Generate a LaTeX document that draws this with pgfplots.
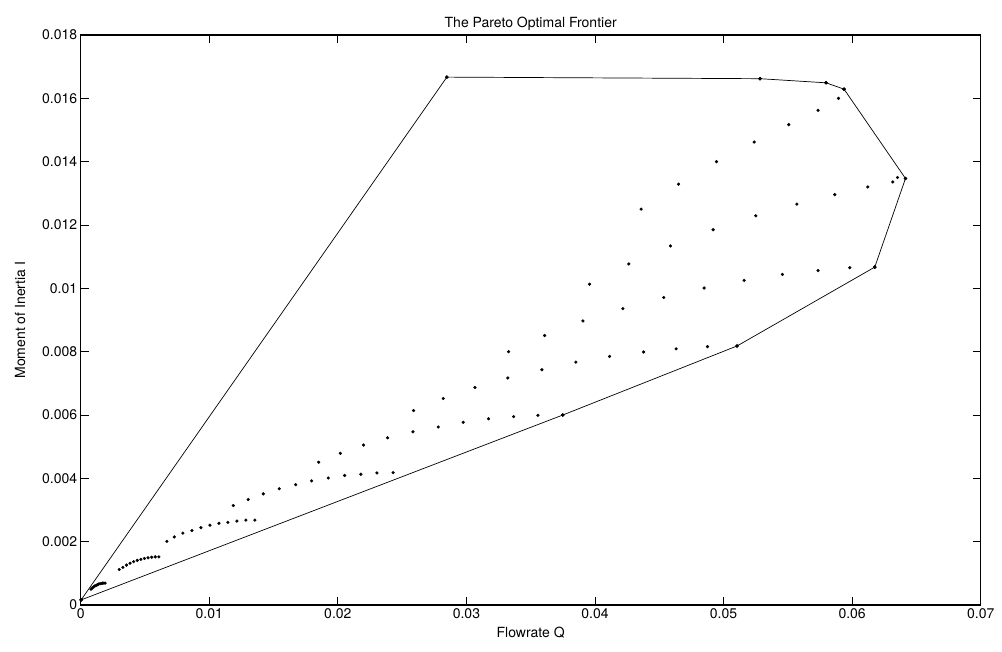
\documentclass[border=0pt]{standalone}
\usepackage{pgfplots}
\pgfplotsset{compat=1.18}
\usepackage{fontspec}
\setmainfont{TeX Gyre Heros}
\begin{document}
\begin{tikzpicture}
\begin{axis}[name=ax,
  scale only axis, width=900bp, height=570bp,
  xmin=0, xmax=0.07, ymin=0, ymax=0.018,
  xtick={0,0.01,...,0.07}, ytick={0,0.002,...,0.018},
  scaled x ticks=false, scaled y ticks=false,
  xticklabel style={/pgf/number format/fixed, /pgf/number format/precision=3},
  yticklabel style={/pgf/number format/fixed, /pgf/number format/precision=3},
  /pgf/number format/assume math mode=true,
  tick align=inside, major tick length=8bp,
  axis line style={line width=1.1bp},
  tick style={line width=0.8bp, black},
  font=\fontsize{14bp}{16bp}\selectfont,
  title={The Pareto Optimal Frontier},
  title style={yshift=-5bp},
  xlabel={Flowrate Q}, ylabel={Moment of Inertia I},
  xlabel style={yshift=-2bp}, ylabel style={yshift=10bp},
  clip=false,
]
% convex hull
\addplot[black, line width=0.7bp, mark=*, mark size=1.4bp] coordinates {
(0.00003,0.00016) (0.02848,0.01667) (0.05284,0.01662) (0.05797,0.01649)
(0.05937,0.01629) (0.06415,0.01347) (0.06176,0.01067) (0.05105,0.00818)
(0.0375,0.0060) (0.00003,0.00016)};
% cluster 1
\addplot[only marks, mark=*, mark size=1.4bp, black] coordinates {
(0.0008,0.00050) (0.0009,0.00054) (0.0010,0.00057) (0.0011,0.00060) (0.0012,0.00062)
(0.0013,0.00064) (0.0014,0.00066) (0.0015,0.00067) (0.0016,0.00068) (0.0017,0.00069)
(0.0018,0.00069) (0.0019,0.00069)};
% cluster 2
\addplot[only marks, mark=*, mark size=1.4bp, black] coordinates {
(0.0030,0.00112) (0.00328,0.00119) (0.00356,0.00126) (0.00384,0.00132) (0.00412,0.00137)
(0.0044,0.00141) (0.00468,0.00144) (0.00496,0.00147) (0.00524,0.00149) (0.00552,0.00151)
(0.0058,0.00152) (0.00608,0.00152)};
% cluster 3
\addplot[only marks, mark=*, mark size=1.4bp, black] coordinates {
(0.0067,0.00201) (0.00728,0.00215) (0.00795,0.00227) (0.00865,0.00235) (0.00935,0.00244)
(0.01005,0.00252) (0.01075,0.00258) (0.01145,0.00261) (0.01215,0.00265) (0.01285,0.00268)
(0.01355,0.00268)};
% series 4
\addplot[only marks, mark=*, mark size=1.4bp, black] coordinates {
(0.01187,0.00314) (0.01303,0.00333) (0.01420,0.00351) (0.01544,0.00367) (0.01672,0.00380)
(0.01796,0.00392) (0.01925,0.00401) (0.02053,0.00409) (0.02179,0.00413) (0.02304,0.00417)
(0.0243,0.00418)};
% series 5
\addplot[only marks, mark=*, mark size=1.4bp, black] coordinates {
(0.01851,0.00451) (0.02019,0.00479) (0.02200,0.00505) (0.02387,0.00528) (0.02584,0.00547)
(0.02781,0.00562) (0.02975,0.00577) (0.03172,0.00588) (0.03367,0.00595) (0.03556,0.00599)
(0.0375,0.0060)};
% series 6
\addplot[only marks, mark=*, mark size=1.4bp, black] coordinates {
(0.02589,0.00614) (0.02820,0.00652) (0.03066,0.00687) (0.03322,0.00717) (0.03587,0.00743)
(0.03851,0.00767) (0.04113,0.00785) (0.04378,0.00799) (0.04631,0.00809) (0.04875,0.00816)
(0.05105,0.00818)};
% series 7
\addplot[only marks, mark=*, mark size=1.4bp, black] coordinates {
(0.03328,0.00800) (0.03608,0.00851) (0.03906,0.00897) (0.04217,0.00936) (0.04535,0.00971)
(0.04849,0.01001) (0.05160,0.01025) (0.05458,0.01044) (0.05735,0.01056) (0.05982,0.01065)
(0.06176,0.01067)};
% series 8
\addplot[only marks, mark=*, mark size=1.4bp, black] coordinates {
(0.03958,0.01013) (0.04263,0.01077) (0.04587,0.01134) (0.04919,0.01185) (0.05251,0.01229)
(0.05570,0.01266) (0.05865,0.01296) (0.06122,0.01320) (0.06316,0.01336) (0.06353,0.01350)
(0.06415,0.01347)};
% series 9
\addplot[only marks, mark=*, mark size=1.4bp, black] coordinates {
(0.04359,0.01250) (0.04650,0.01329) (0.04945,0.01400) (0.05238,0.01462) (0.05507,0.01517)
(0.05735,0.01562) (0.05894,0.01600) (0.05937,0.01629) (0.05797,0.01649) (0.05284,0.01662)
(0.02848,0.01667)};
\end{axis}
\pgfresetboundingbox
\path[use as bounding box] (ax.south west) ++(-80.7bp,-47bp) rectangle ++(1002bp,652bp);
\end{tikzpicture}
\end{document}
